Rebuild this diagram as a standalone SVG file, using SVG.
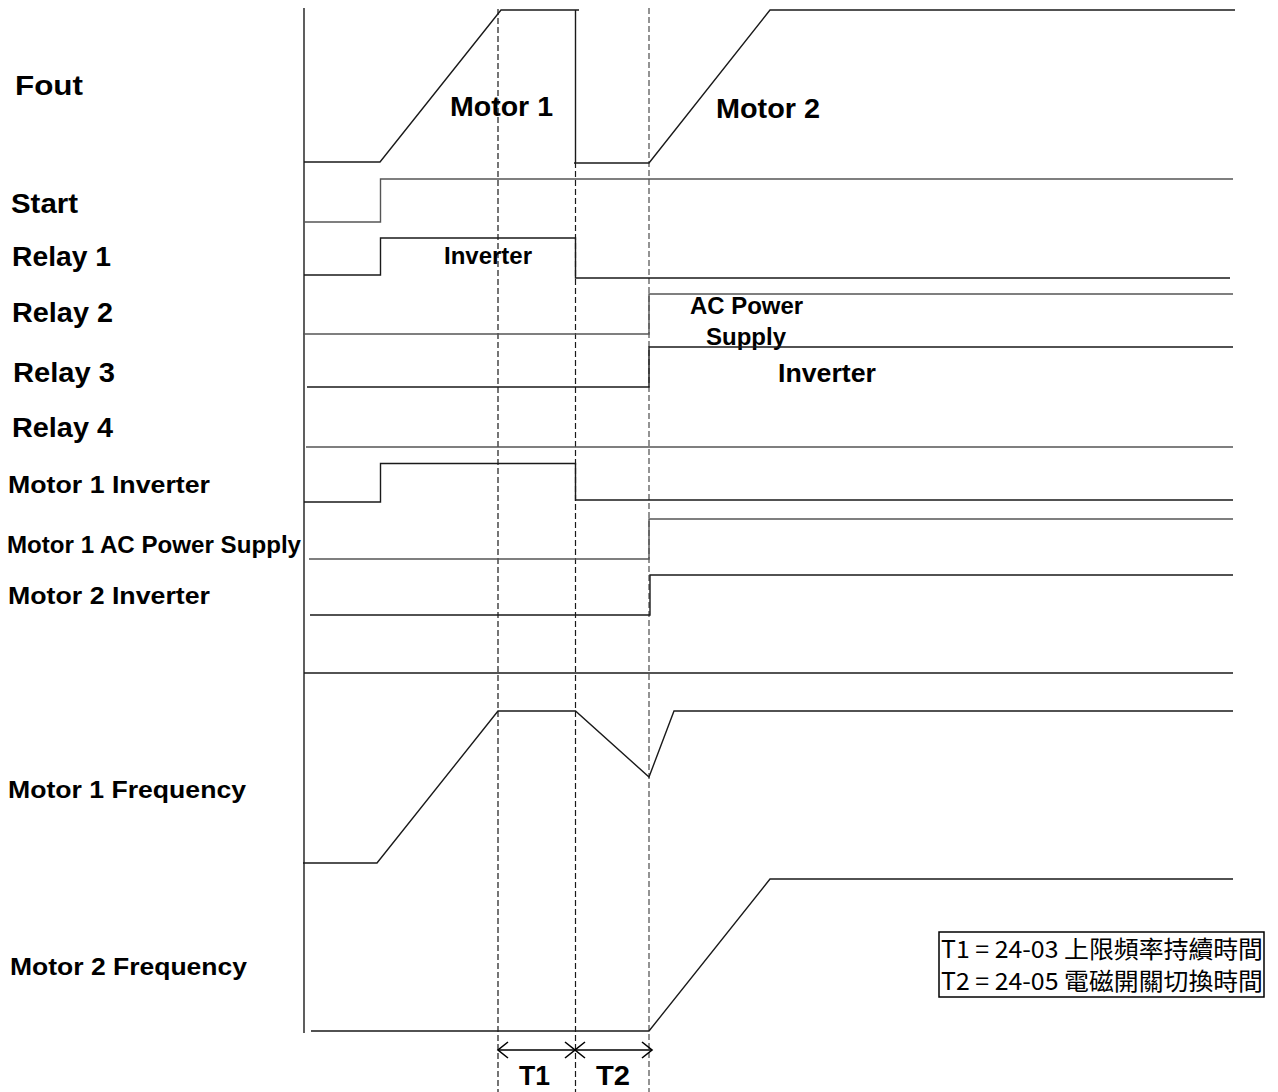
<svg xmlns="http://www.w3.org/2000/svg" width="1278" height="1092" viewBox="0 0 1278 1092">
<style>
.bg{fill:#fff}
.sig{fill:none;stroke:#1a1a1a;stroke-width:1.4;stroke-linejoin:miter}
.sigg{fill:none;stroke:#555;stroke-width:1.4}
.dash{fill:none;stroke:#1a1a1a;stroke-width:1.2;stroke-dasharray:6 3}
.dashg{fill:none;stroke:#666;stroke-width:1.4;stroke-dasharray:6 3}
.lbl{font-family:"Liberation Sans",Arial,sans-serif;font-weight:bold;fill:#000}
.cjk{font-family:"Noto Sans CJK TC","Noto Sans CJK SC",sans-serif;fill:#000}
.dim{fill:none;stroke:#000;stroke-width:1.6}
</style>
<defs>
<marker id="chev" viewBox="-12 -10 14 20" markerWidth="14" markerHeight="20" refX="0" refY="0" orient="auto-start-reverse" markerUnits="userSpaceOnUse">
<path d="M-10,-8 L0,0 L-10,8" fill="none" stroke="#000" stroke-width="1.6"/>
</marker>
</defs>
<rect class="bg" x="0" y="0" width="1278" height="1092"/>

<g id="connectors">
<polyline id="axis" class="sig" points="304,8 304,1033"/>
<line class="dash" x1="498" y1="9" x2="498" y2="1092"/>
<line class="dash" x1="575.5" y1="162" x2="575.5" y2="1092"/>
<line class="dashg" x1="649" y1="8" x2="649" y2="1092"/>
<line class="dim" x1="498" y1="1050" x2="575" y2="1050" marker-start="url(#chev)" marker-end="url(#chev)"/>
<line class="dim" x1="575" y1="1050" x2="652" y2="1050" marker-start="url(#chev)" marker-end="url(#chev)"/>
</g>

<g id="fout">
<text class="lbl" x="15" y="95" font-size="28" textLength="68" lengthAdjust="spacingAndGlyphs">Fout</text>
<polyline class="sig" points="304,162 380,162 501,10 579,10"/>
<polyline class="sig" points="575.5,10 575.5,162"/>
<polyline class="sig" points="574,163 649,163 770,10 1235,10"/>
<text class="lbl" x="450" y="116" font-size="28" textLength="103" lengthAdjust="spacingAndGlyphs">Motor 1</text>
<text class="lbl" x="716" y="118" font-size="28" textLength="104" lengthAdjust="spacingAndGlyphs">Motor 2</text>
</g>

<g id="start">
<text class="lbl" x="11" y="213" font-size="27" textLength="67" lengthAdjust="spacingAndGlyphs">Start</text>
<polyline class="sigg" points="304,222 380.5,222 380.5,179 1233,179"/>
</g>

<g id="relay1">
<text class="lbl" x="12" y="266" font-size="27" textLength="99" lengthAdjust="spacingAndGlyphs">Relay 1</text>
<polyline class="sig" points="304,275 380.5,275 380.5,238 575.5,238 575.5,278 1230,278"/>
<text class="lbl" x="444" y="264" font-size="23" textLength="88" lengthAdjust="spacingAndGlyphs">Inverter</text>
</g>

<g id="relay2">
<text class="lbl" x="12" y="322" font-size="27" textLength="101" lengthAdjust="spacingAndGlyphs">Relay 2</text>
<polyline class="sigg" points="303,334 649,334 649,294 1233,294"/>
<text class="lbl" x="690" y="314" font-size="23" textLength="113" lengthAdjust="spacingAndGlyphs">AC Power</text>
<text class="lbl" x="706" y="345" font-size="23" textLength="80" lengthAdjust="spacingAndGlyphs">Supply</text>
</g>

<g id="relay3">
<text class="lbl" x="13" y="382" font-size="27" textLength="102" lengthAdjust="spacingAndGlyphs">Relay 3</text>
<polyline class="sig" points="307,387 649,387 649,347 1233,347"/>
<text class="lbl" x="778" y="382" font-size="26" textLength="98" lengthAdjust="spacingAndGlyphs">Inverter</text>
</g>

<g id="relay4">
<text class="lbl" x="12" y="437" font-size="27" textLength="101" lengthAdjust="spacingAndGlyphs">Relay 4</text>
<polyline class="sigg" points="306,447 1233,447"/>
</g>

<g id="motor1-inverter">
<text class="lbl" x="8" y="493" font-size="24" textLength="202" lengthAdjust="spacingAndGlyphs">Motor 1 Inverter</text>
<polyline class="sig" points="304,502 380.5,502 380.5,463.5 575.5,463.5 575.5,500 1233,500"/>
</g>

<g id="motor1-ac">
<text class="lbl" x="7" y="553" font-size="24" textLength="294" lengthAdjust="spacingAndGlyphs">Motor 1 AC Power Supply</text>
<polyline class="sigg" points="309,559 649,559 649,519 1233,519"/>
</g>

<g id="motor2-inverter">
<text class="lbl" x="8" y="604" font-size="24" textLength="202" lengthAdjust="spacingAndGlyphs">Motor 2 Inverter</text>
<polyline class="sig" points="310,615 650,615 650,575 1233,575"/>
</g>

<g id="separator">
<polyline class="sig" points="304,673 1233,673"/>
</g>

<g id="motor1-frequency">
<text class="lbl" x="8" y="798" font-size="24" textLength="238" lengthAdjust="spacingAndGlyphs">Motor 1 Frequency</text>
<polyline class="sig" points="303,863 377,863 498,711 575.5,711 649,777 674,711 1233,711"/>
</g>

<g id="motor2-frequency">
<text class="lbl" x="10" y="975" font-size="24" textLength="237" lengthAdjust="spacingAndGlyphs">Motor 2 Frequency</text>
<polyline class="sig" points="311,1031 649,1031 770,879 1233,879"/>
</g>

<g id="times">
<text class="lbl" x="519" y="1085" font-size="28" textLength="31" lengthAdjust="spacingAndGlyphs">T1</text>
<text class="lbl" x="596" y="1085" font-size="28" textLength="34" lengthAdjust="spacingAndGlyphs">T2</text>
</g>

<g id="legend">
<rect x="939" y="932" width="325" height="65" fill="#fff" stroke="#000" stroke-width="1.5"/>
<text class="cjk" x="941" y="958" font-size="24" textLength="322" lengthAdjust="spacingAndGlyphs">T1 = 24-03 上限頻率持續時間</text>
<text class="cjk" x="941" y="990" font-size="24" textLength="322" lengthAdjust="spacingAndGlyphs">T2 = 24-05 電磁開關切換時間</text>
</g>
</svg>
